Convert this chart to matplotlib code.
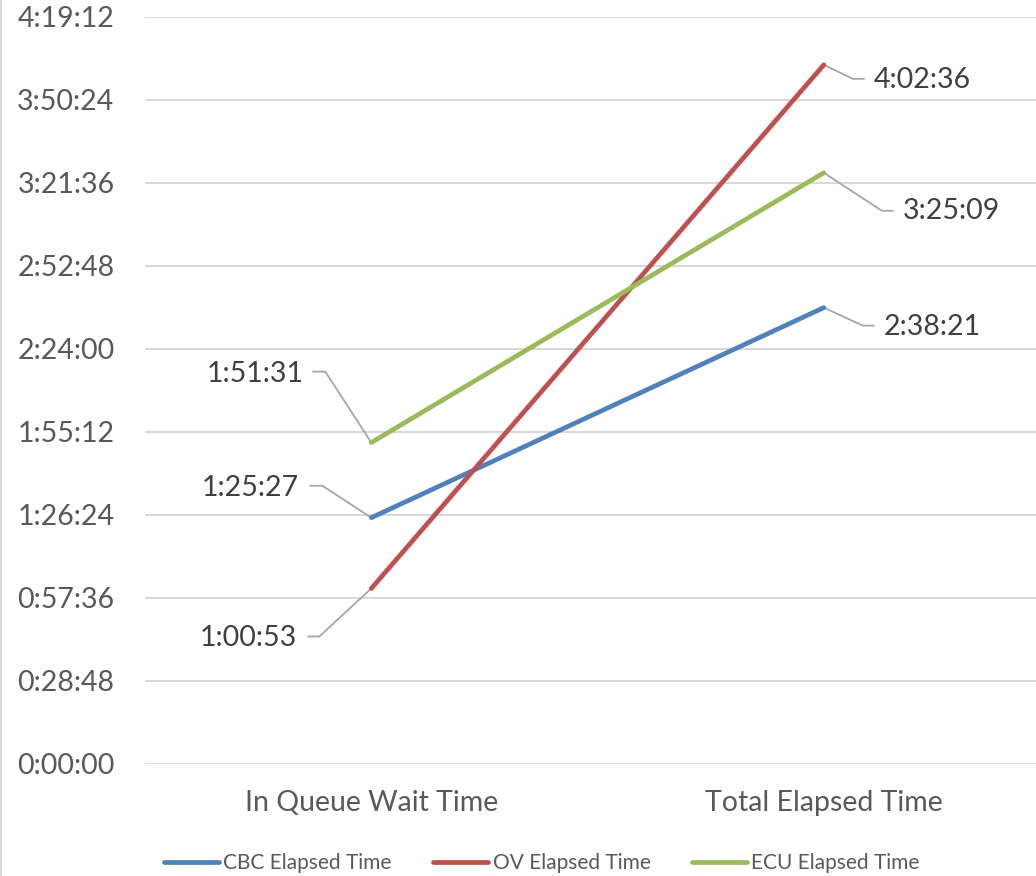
import matplotlib
matplotlib.use("Agg")
import matplotlib.pyplot as plt
import matplotlib.transforms as mtransforms
from matplotlib.lines import Line2D

# data (seconds)
categories = ["In Queue Wait Time", "Total Elapsed Time"]
cbc = [5127, 9501]     # 1:25:27, 2:38:21
ov = [3653, 14556]     # 1:00:53, 4:02:36
ecu = [6691, 12309]    # 1:51:31, 3:25:09
series_names = ["CBC Elapsed Time", "OV Elapsed Time", "ECU Elapsed Time"]
tick_step = 1728       # 0:28:48


def hms(s):
    s = int(round(s))
    return "%d:%02d:%02d" % (s // 3600, (s % 3600) // 60, s % 60)


plt.rcParams['font.family'] = ['Lato', 'DejaVu Sans']

fig = plt.figure(figsize=(10.36, 8.76), dpi=100)
ax = fig.add_axes([0.140, 0.1279, 0.8736, 0.8527])

colors = ["#4F81BD", "#C0504D", "#9BBB59"]
x = list(range(len(categories)))
for vals, name, c in zip([cbc, ov, ecu], series_names, colors):
    ax.plot(x, vals, color=c, lw=3.4, solid_capstyle='round', label=name, zorder=3)

ax.set_xlim(-0.5, 1.5)
ax.set_ylim(0, 9 * tick_step)
yt = [i * tick_step for i in range(10)]
ax.set_yticks(yt)
ax.set_yticklabels([hms(v) for v in yt])
ax.set_xticks(x)
ax.set_xticklabels(categories)
ax.tick_params(axis='y', length=0, pad=22, labelsize=20.5, labelcolor="#595959")
ax.tick_params(axis='x', length=0, pad=19, labelsize=20.5, labelcolor="#595959")
ax.grid(axis='y', color="#D9D9D9", lw=1.5)
ax.set_axisbelow(True)
for sp in ax.spines.values():
    sp.set_visible(False)

# data labels with leader lines; offsets in pixels (y up)
label_layout = [
    # series values, index, text offset, alignment, leader vertices
    (ecu, 0, (-68, 69), 'right', [(0, 0), (-46, 71), (-58, 71)]),
    (cbc, 0, (-72, 30), 'right', [(0, 0), (-49, 32), (-61, 32)]),
    (ov, 0, (-74, -49), 'right', [(0, 0), (-52, -48), (-63, -48)]),
    (ov, 1, (50, -15), 'left', [(0, 0), (29, -14), (40, -14)]),
    (cbc, 1, (60, -19), 'left', [(0, 0), (39, -18), (50, -18)]),
    (ecu, 1, (79, -38), 'left', [(0, 0), (58, -38), (69, -38)]),
]
for vals, i, (tx, ty), ha, verts in label_layout:
    base = mtransforms.ScaledTranslation(i, vals[i], ax.transData)
    tr = mtransforms.IdentityTransform() + base
    xs = [v[0] for v in verts]
    ys = [v[1] for v in verts]
    ax.add_line(Line2D(xs, ys, transform=tr, color="#A6A6A6", lw=1.3, zorder=2,
                       clip_on=False))
    ax.annotate(hms(vals[i]), xy=(i, vals[i]), xytext=(tx, ty),
                textcoords='offset pixels', ha=ha, va='center',
                fontsize=20.5, color="#404040")

leg = fig.legend(loc='lower center', bbox_to_anchor=(0.523, -0.018), ncol=3,
                 frameon=False, fontsize=15, handlelength=2.65, handletextpad=0.2,
                 columnspacing=2.0, labelcolor="#595959")

# chart frame edge on the left
fig.add_artist(Line2D([0.001, 0.001], [0, 1], transform=fig.transFigure,
                      color="#D9D9D9", lw=1.5))

fig.savefig("out.png", dpi=100)
